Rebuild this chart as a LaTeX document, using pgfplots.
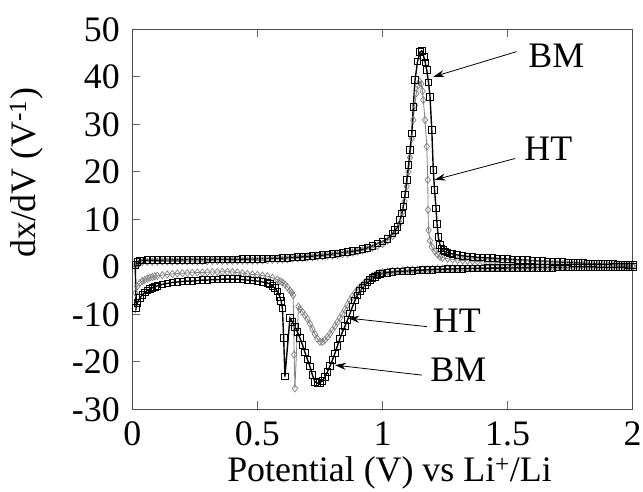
\documentclass[border=0pt]{standalone}
\usepackage{fontspec}
\setmainfont{Liberation Serif}
\usepackage{pgfplots}
\pgfplotsset{compat=1.18}
\usetikzlibrary{arrows.meta}

\newcommand{\bigfont}{\fontsize{36}{40}\selectfont}

\begin{document}
\begin{tikzpicture}
\begin{axis}[
  width=500.4bp, height=380bp, scale only axis,
  xmin=0, xmax=2, ymin=-30, ymax=50,
  xtick={0,0.5,1,1.5,2},
  ytick={-30,-20,-10,0,10,20,30,40,50},
  xtick pos=both, ytick pos=left,
  tick align=inside,
  major tick length=8bp,
  every tick/.style={black!60, line width=0.9bp},
  axis line style={black!70, line width=1bp},
  /pgf/number format/assume math mode=true,
  tick label style={font=\bigfont},
  xticklabel style={yshift=-9bp},
  yticklabel style={xshift=-9bp},
  xlabel={Potential (V) vs Li\textsuperscript{+}/Li},
  ylabel={dx/dV (V\textsuperscript{-1})},
  label style={font=\bigfont},
  xlabel style={at={(axis description cs:0.514,-0.168)}, anchor=center},
  ylabel style={at={(axis description cs:-0.212,0.622)}, anchor=center},
  clip=true,
]
\coordinate (O) at (rel axis cs:0,0);

% HT: discharge from 2 V down, then charge back up to 2 V
\addplot[gray, line width=0.8bp, mark=diamond, mark size=3.6bp,
  mark options={solid, gray, line width=0.7bp, fill=none}] coordinates {
(2.00,0.00)(1.98,-0.01)(1.96,-0.02)(1.94,-0.03)(1.92,-0.03)(1.90,-0.04)(1.88,-0.05)(1.86,-0.05)(1.84,-0.06)(1.82,-0.06)
(1.80,-0.07)(1.78,-0.07)(1.76,-0.08)(1.74,-0.08)(1.72,-0.09)(1.70,-0.09)(1.68,-0.10)(1.66,-0.10)(1.64,-0.11)(1.62,-0.11)
(1.60,-0.12)(1.58,-0.12)(1.56,-0.13)(1.54,-0.13)(1.52,-0.14)(1.50,-0.15)(1.48,-0.16)(1.46,-0.18)(1.44,-0.19)(1.42,-0.21)
(1.40,-0.22)(1.38,-0.24)(1.36,-0.25)(1.34,-0.27)(1.32,-0.28)(1.30,-0.30)(1.28,-0.33)(1.26,-0.36)(1.24,-0.39)(1.22,-0.43)
(1.20,-0.47)(1.18,-0.51)(1.16,-0.55)(1.14,-0.59)(1.12,-0.62)(1.10,-0.65)(1.08,-0.72)(1.06,-0.80)(1.04,-0.90)(1.02,-1.00)
(1.00,-1.10)(0.99,-1.25)(0.98,-1.45)(0.97,-1.70)(0.96,-2.00)(0.95,-2.40)(0.94,-2.80)(0.93,-3.30)(0.92,-3.80)(0.91,-4.30)
(0.90,-4.80)(0.89,-5.50)(0.88,-6.20)(0.87,-7.00)(0.86,-8.00)(0.85,-9.00)(0.84,-9.90)(0.83,-10.8)(0.82,-11.6)(0.81,-12.5)
(0.80,-13.3)(0.79,-14.1)(0.78,-14.8)(0.77,-15.4)(0.76,-15.8)(0.75,-15.8)(0.74,-15.2)(0.73,-14.2)(0.72,-13.1)(0.71,-12.0)
(0.70,-11.0)(0.69,-10.2)(0.68,-9.50)(0.67,-8.90)(0.664,-8.40)(0.650,-25.6)(0.647,-18.5)(0.645,-12.0)(0.643,-6.00)(0.637,-5.40)
(0.63,-5.00)(0.62,-4.30)(0.61,-3.70)(0.60,-3.30)(0.59,-3.00)(0.58,-2.70)(0.56,-2.30)(0.54,-2.00)(0.52,-1.85)(0.50,-1.70)
(0.48,-1.60)(0.46,-1.50)(0.44,-1.35)(0.42,-1.20)(0.40,-1.10)(0.38,-1.05)(0.36,-1.05)(0.34,-1.10)(0.32,-1.10)(0.30,-1.15)
(0.28,-1.20)(0.26,-1.20)(0.24,-1.25)(0.22,-1.30)(0.20,-1.35)(0.18,-1.40)(0.16,-1.50)(0.14,-1.60)(0.12,-1.75)(0.10,-1.90)
(0.09,-2.00)(0.08,-2.15)(0.07,-2.30)(0.06,-2.50)(0.05,-2.75)(0.04,-3.00)(0.03,-3.40)(0.02,-4.10)(0.013,-5.50)
(0.012,0.30)(0.02,0.70)(0.03,0.90)(0.04,1.00)(0.06,1.05)(0.08,1.08)(0.10,1.10)(0.12,1.11)(0.14,1.12)(0.16,1.13)
(0.18,1.14)(0.20,1.15)(0.22,1.16)(0.24,1.17)(0.26,1.18)(0.28,1.19)(0.30,1.20)(0.32,1.21)(0.34,1.22)(0.36,1.23)
(0.38,1.24)(0.40,1.25)(0.42,1.26)(0.44,1.27)(0.46,1.28)(0.48,1.29)(0.50,1.30)(0.52,1.34)(0.54,1.38)(0.56,1.43)
(0.58,1.48)(0.60,1.54)(0.62,1.60)(0.64,1.70)(0.66,1.80)(0.68,1.87)(0.70,1.94)(0.72,2.02)(0.74,2.10)(0.76,2.20)
(0.78,2.30)(0.80,2.40)(0.82,2.50)(0.84,2.65)(0.86,2.80)(0.88,3.00)(0.90,3.20)(0.92,3.45)(0.94,3.70)(0.96,4.00)
(0.98,4.40)(1.00,4.80)(1.02,5.50)(1.04,6.50)(1.055,7.60)(1.07,9.20)(1.080,11.5)(1.088,13.8)(1.097,16.9)(1.104,20.0)
(1.110,23.0)(1.117,27.0)(1.123,30.9)(1.129,34.0)(1.135,36.5)(1.142,38.2)(1.148,39.0)(1.155,38.5)(1.160,37.0)(1.163,35.1)
(1.170,30.9)(1.177,25.3)(1.181,18.3)(1.182,12.0)(1.184,7.70)(1.190,5.50)(1.197,4.20)(1.21,3.20)(1.22,2.60)(1.23,2.10)
(1.24,1.90)(1.26,1.70)(1.28,1.55)(1.30,1.42)(1.32,1.33)(1.34,1.25)(1.36,1.18)(1.38,1.12)(1.40,1.06)(1.42,1.01)
(1.44,0.96)(1.46,0.92)(1.48,0.88)(1.50,0.84)(1.52,0.80)(1.54,0.77)(1.56,0.74)(1.58,0.71)(1.60,0.68)(1.62,0.65)
(1.64,0.62)(1.66,0.60)(1.68,0.57)(1.70,0.55)(1.72,0.53)(1.74,0.51)(1.76,0.49)(1.78,0.47)(1.80,0.45)(1.82,0.43)
(1.84,0.41)(1.86,0.40)(1.88,0.38)(1.90,0.37)(1.92,0.35)(1.94,0.34)(1.96,0.32)(1.98,0.31)(2.00,0.30)
};

% BM: discharge from 2 V down, then charge back up to 2 V
\addplot[black, line width=1.4bp, mark=square, mark size=3.3bp,
  mark options={solid, black, line width=0.9bp, fill=none}] coordinates {
(2.00,-0.05)(1.98,-0.06)(1.96,-0.07)(1.94,-0.08)(1.92,-0.09)(1.90,-0.10)(1.88,-0.10)(1.86,-0.11)(1.84,-0.12)(1.82,-0.13)
(1.80,-0.14)(1.78,-0.14)(1.76,-0.15)(1.74,-0.16)(1.72,-0.17)(1.70,-0.17)(1.68,-0.18)(1.66,-0.19)(1.64,-0.20)(1.62,-0.20)
(1.60,-0.21)(1.58,-0.22)(1.56,-0.23)(1.54,-0.24)(1.52,-0.25)(1.50,-0.26)(1.48,-0.27)(1.46,-0.28)(1.44,-0.29)(1.42,-0.30)
(1.40,-0.32)(1.38,-0.34)(1.36,-0.36)(1.34,-0.38)(1.32,-0.40)(1.30,-0.42)(1.28,-0.45)(1.26,-0.48)(1.24,-0.52)(1.22,-0.56)
(1.20,-0.60)(1.18,-0.66)(1.16,-0.72)(1.14,-0.78)(1.12,-0.84)(1.10,-0.90)(1.08,-0.96)(1.06,-1.02)(1.04,-1.10)(1.02,-1.25)
(1.00,-1.40)(0.99,-1.55)(0.98,-1.80)(0.97,-2.10)(0.96,-2.40)(0.95,-2.80)(0.94,-3.30)(0.93,-3.90)(0.92,-4.50)(0.91,-5.10)
(0.90,-6.00)(0.89,-7.10)(0.88,-8.40)(0.87,-9.80)(0.86,-11.2)(0.85,-12.5)(0.84,-13.7)(0.83,-15.1)(0.82,-16.6)(0.81,-18.2)
(0.80,-19.6)(0.79,-20.9)(0.78,-22.1)(0.77,-23.2)(0.76,-24.0)(0.75,-24.4)(0.74,-24.5)(0.73,-24.2)(0.72,-22.8)(0.71,-21.0)
(0.70,-19.5)(0.69,-18.0)(0.68,-16.4)(0.67,-15.0)(0.66,-13.7)(0.65,-12.6)(0.64,-11.6)(0.63,-10.8)(0.61,-23.1)(0.605,-15.0)
(0.600,-8.80)(0.595,-7.20)(0.59,-6.30)(0.58,-5.20)(0.57,-4.50)(0.56,-4.00)(0.55,-3.60)(0.54,-3.40)(0.52,-3.20)(0.50,-3.00)
(0.48,-2.90)(0.46,-2.80)(0.44,-2.70)(0.42,-2.60)(0.40,-2.60)(0.38,-2.60)(0.36,-2.60)(0.34,-2.70)(0.32,-2.70)(0.30,-2.80)
(0.28,-2.80)(0.26,-2.90)(0.24,-3.00)(0.22,-3.00)(0.20,-3.10)(0.18,-3.20)(0.16,-3.30)(0.14,-3.50)(0.12,-3.70)(0.10,-4.00)
(0.09,-4.20)(0.08,-4.40)(0.07,-4.70)(0.06,-5.00)(0.05,-5.40)(0.04,-5.90)(0.03,-6.60)(0.02,-7.60)(0.015,-8.70)
(0.012,0.40)(0.02,1.00)(0.03,1.30)(0.04,1.35)(0.06,1.40)(0.08,1.40)(0.10,1.40)(0.12,1.42)(0.14,1.44)(0.16,1.45)
(0.18,1.46)(0.20,1.47)(0.22,1.48)(0.24,1.49)(0.26,1.50)(0.28,1.50)(0.30,1.51)(0.32,1.52)(0.34,1.53)(0.36,1.54)
(0.38,1.55)(0.40,1.56)(0.42,1.58)(0.44,1.60)(0.46,1.62)(0.48,1.65)(0.50,1.68)(0.52,1.71)(0.54,1.74)(0.56,1.77)
(0.58,1.80)(0.60,1.84)(0.62,1.90)(0.64,1.96)(0.66,2.02)(0.68,2.10)(0.70,2.18)(0.72,2.26)(0.74,2.36)(0.76,2.46)
(0.78,2.58)(0.80,2.70)(0.82,2.85)(0.84,3.00)(0.86,3.15)(0.88,3.30)(0.90,3.45)(0.92,3.70)(0.94,4.00)(0.96,4.40)
(0.98,4.90)(1.00,5.30)(1.02,5.90)(1.04,7.00)(1.05,7.70)(1.06,8.40)(1.07,9.90)(1.077,11.2)(1.083,12.7)(1.090,15.2)
(1.097,18.3)(1.104,21.4)(1.110,24.6)(1.117,28.1)(1.123,33.7)(1.130,39.3)(1.140,43.2)(1.150,45.2)(1.157,45.5)(1.165,44.2)
(1.171,43.0)(1.177,41.4)(1.184,38.8)(1.190,35.8)(1.197,28.8)(1.203,20.4)(1.208,16.2)(1.214,12.3)(1.218,9.00)(1.223,6.30)
(1.230,4.60)(1.236,3.90)(1.243,3.50)(1.25,3.20)(1.26,3.00)(1.27,2.85)(1.28,2.70)(1.30,2.50)(1.32,2.30)(1.34,2.20)
(1.36,2.10)(1.38,2.00)(1.40,1.95)(1.42,1.88)(1.44,1.82)(1.46,1.76)(1.48,1.70)(1.50,1.64)(1.52,1.57)(1.54,1.50)
(1.56,1.44)(1.58,1.38)(1.60,1.32)(1.62,1.26)(1.64,1.20)(1.66,1.14)(1.68,1.08)(1.70,1.02)(1.72,0.96)(1.74,0.91)
(1.76,0.86)(1.78,0.81)(1.80,0.76)(1.82,0.72)(1.84,0.68)(1.86,0.64)(1.88,0.60)(1.90,0.57)(1.92,0.54)(1.94,0.50)
(1.96,0.47)(1.98,0.44)(2.00,0.40)
};

% call-outs naming the two samples
\draw[black, line width=0.8bp, -{Stealth[length=11bp,width=7bp]}]
  (axis cs:1.536,45.3) -- (axis cs:1.203,40.0);
\draw[black, line width=0.8bp, -{Stealth[length=11bp,width=7bp]}]
  (axis cs:1.530,22.8) -- (axis cs:1.208,18.3);
\draw[black, line width=0.8bp, -{Stealth[length=11bp,width=7bp]}]
  (axis cs:1.177,-12.6) -- (axis cs:0.863,-10.8);
\draw[black, line width=0.8bp, -{Stealth[length=11bp,width=7bp]}]
  (axis cs:1.157,-22.8) -- (axis cs:0.810,-20.7);
\node[font=\bigfont] at (axis cs:1.695,44.5) {BM};
\node[font=\bigfont] at (axis cs:1.663,24.9) {HT};
\node[font=\bigfont] at (axis cs:1.297,-11.4) {HT};
\node[font=\bigfont] at (axis cs:1.303,-21.6) {BM};
\end{axis}
\pgfresetboundingbox
\path (O) ++(-132.3bp,-82.7bp) rectangle ++(643bp,492bp);
\end{tikzpicture}
\end{document}
